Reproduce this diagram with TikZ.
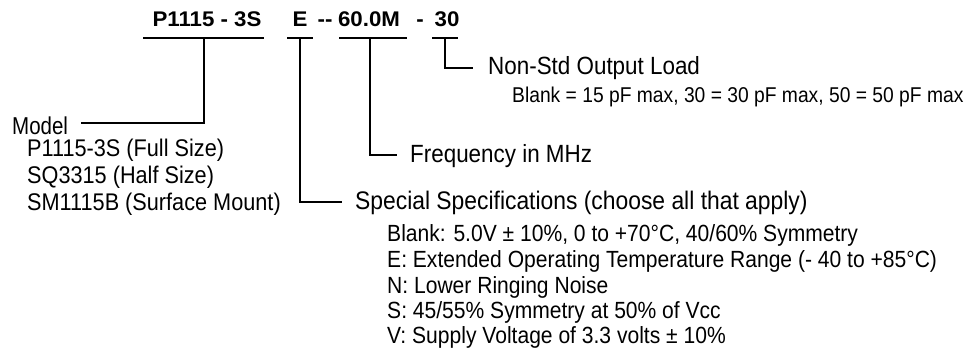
\documentclass[tikz,border=0pt]{standalone}
\usepackage{fontspec}
\setmainfont{Liberation Sans}[FakeStretch=0.9]
\newfontfamily\ttlfont{Liberation Sans}[FakeStretch=1.05]
\newfontfamily\narrowfont{Liberation Sans}[FakeStretch=0.84]
\begin{document}
\begin{tikzpicture}[x=1pt,y=-1pt,
  ttl/.style={inner sep=0pt,anchor=base,font=\ttlfont\fontsize{21.2}{22}\selectfont\bfseries},
  head/.style={inner sep=0pt,anchor=base west,font=\fontsize{24.9}{26}\selectfont},
  body/.style={inner sep=0pt,anchor=base west,font=\fontsize{23.4}{26}\selectfont},
  ln/.style={line width=1.3pt}]
\useasboundingbox (0,0) rectangle (974,352);
% title parts
\node[ttl] (t1) at (207,27) {P1115 - 3S};
\node[ttl] (t2) at (300,27) {E};
\node[ttl] (t3) at (325,27) {-{}-};
\node[ttl] (t4) at (369,27) {60.0M};
\node[ttl] (t5) at (420,27) {-};
\node[ttl] (t6) at (447,27) {30};
% underlines
\draw[ln] (143,38) -- (264,38);
\draw[ln] (287,38) -- (313,38);
\draw[ln] (339,38) -- (407,38);
\draw[ln] (432,38) -- (458,38);
% labels
\node[head,font=\narrowfont\fontsize{24.4}{26}\selectfont] (model) at (12,135) {Model};
\node[body,font=\fontsize{24.1}{26}\selectfont] (m1) at (27,157) {P1115-3S (Full Size)};
\node[body,font=\fontsize{24.1}{26}\selectfont] (m2) at (27,184) {SQ3315 (Half Size)};
\node[body,font=\fontsize{24.1}{26}\selectfont] (m3) at (27,211) {SM1115B (Surface Mount)};
\node[head] (load) at (488,75) {Non-Std Output Load};
\node[body,font=\fontsize{21.4}{24}\selectfont] (loadv) at (512,103) {Blank = 15 pF max, 30 = 30 pF max, 50 = 50 pF max};
\node[head] (freq) at (410,163) {Frequency in MHz};
\node[head,font=\fontsize{25.4}{26}\selectfont] (spec) at (355,210) {Special Specifications (choose all that apply)};
\node[body] (s1) at (387,242) {Blank: 5.0V ± 10\%, 0 to +70°C, 40/60\% Symmetry};
\node[body] (s2) at (387,268) {E: Extended Operating Temperature Range (- 40 to +85°C)};
\node[body] (s3) at (387,294) {N: Lower Ringing Noise};
\node[body] (s4) at (387,319) {S: 45/55\% Symmetry at 50\% of Vcc};
\node[body] (s5) at (387,344) {V: Supply Voltage of 3.3 volts ± 10\%};
% connectors
\coordinate (c1) at (204,38); \coordinate (e1) at (81,123);
\coordinate (c2) at (300,38); \coordinate (e2) at (342,202);
\coordinate (c3) at (370,38); \coordinate (e3) at (397,155);
\coordinate (c4) at (445,38); \coordinate (e4) at (473,68);
\draw[ln] (c1) |- (e1);
\draw[ln] (c2) |- (e2);
\draw[ln] (c3) |- (e3);
\draw[ln] (c4) |- (e4);
\end{tikzpicture}
\end{document}
